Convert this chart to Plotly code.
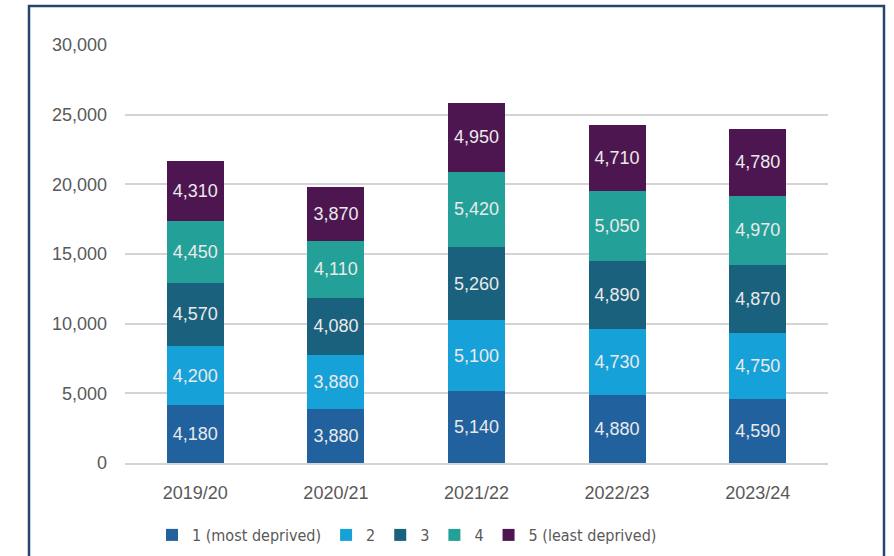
import plotly.graph_objects as go

years = ["2019/20", "2020/21", "2021/22", "2022/23", "2023/24"]
series_names = ["1 (most deprived)", "2", "3", "4", "5 (least deprived)"]
q1 = [4180, 3880, 5140, 4880, 4590]
q2 = [4200, 3880, 5100, 4730, 4750]
q3 = [4570, 4080, 5260, 4890, 4870]
q4 = [4450, 4110, 5420, 5050, 4970]
q5 = [4310, 3870, 4950, 4710, 4780]
colors = ["#20619E", "#16A1D9", "#1A617D", "#23A199", "#4E1650"]

fig = go.Figure()
for name, vals, col in zip(series_names, [q1, q2, q3, q4, q5], colors):
    fig.add_trace(go.Bar(
        x=years, y=vals, name=name, marker=dict(color=col, line=dict(width=0)),
        text=[f"{v:,}" for v in vals], textposition="inside", insidetextanchor="middle",
        textfont=dict(color="#EAEAEA", size=18, family="Liberation Sans"),
        width=0.405,
    ))

fig.update_layout(
    barmode="stack",
    width=894, height=556,
    margin=dict(l=125, r=66, t=45, b=93, autoexpand=False),
    paper_bgcolor="white", plot_bgcolor="white",
    font=dict(family="Liberation Sans", color="#595959", size=17),
    showlegend=True,
    legend=dict(orientation="h", x=(407 - 125) / 703, xanchor="center", y=-72 / 418, yanchor="middle",
                font=dict(size=16, family="Liberation Sans Narrow, DejaVu Sans Condensed, Liberation Sans",
                          color="#595959"),
                traceorder="normal", itemwidth=30, tracegroupgap=0),
    uniformtext=dict(mode="show", minsize=10),
)
fig.update_yaxes(range=[0, 30000], dtick=5000, tickformat=",", showgrid=True,
                 gridcolor="#D4D4D4", gridwidth=1.5, zeroline=False, showline=False,
                 ticklabelstandoff=17, tickfont=dict(size=18, color="#595959"))
fig.update_xaxes(showline=True, linecolor="#D4D4D4", linewidth=1.5, ticks="",
                 ticklabelstandoff=13, tickfont=dict(size=18, color="#595959"))
fig.add_shape(type="rect", xref="paper", yref="paper",
              x0=-96 / 703, x1=(884 - 125) / 703, y0=-0.5, y1=(463 - 6) / 418,
              line=dict(color="#24466E", width=2.5), fillcolor="rgba(0,0,0,0)", layer="below")
fig.write_html("out.html")
